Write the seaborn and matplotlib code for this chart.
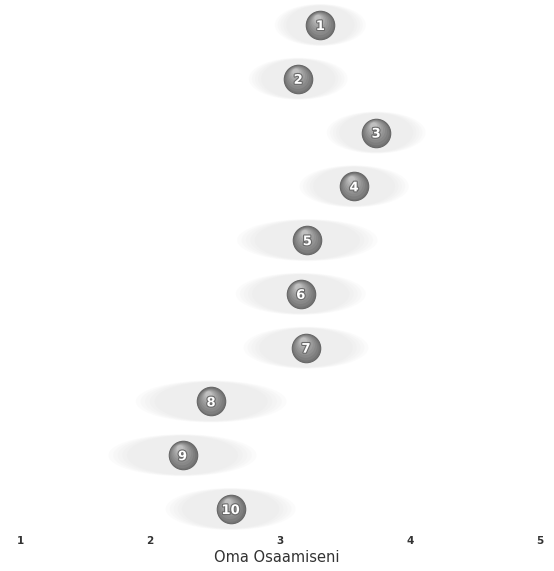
import numpy as np
import pandas as pd
import seaborn as sns
import matplotlib
matplotlib.use("Agg")
import matplotlib.pyplot as plt
from matplotlib.patches import Ellipse
from matplotlib.transforms import offset_copy
import matplotlib.patheffects as pe

# Self-assessment: mean score per item and the spread around it
items = [1, 2, 3, 4, 5, 6, 7, 8, 9, 10]
means = [3.31, 3.14, 3.74, 3.57, 3.21, 3.16, 3.20, 2.47, 2.25, 2.62]
spread = [0.35, 0.38, 0.38, 0.42, 0.54, 0.50, 0.48, 0.58, 0.57, 0.50]
tick_values = [1, 2, 3, 4, 5]
tick_labels = ["1", "2", "3", "4", "5"]
x_title = "Oma Osaamiseni"

df = pd.DataFrame({"item": items, "mean": means, "spread": spread})

sns.set_theme(style="white")
plt.rcParams["font.family"] = ["DejaVu Sans"]

fig = plt.figure(figsize=(5.54, 5.71), dpi=100)
ax = fig.add_axes([0.0, 41 / 571, 1.0, 530 / 571])

# pale, flat halo showing the spread of answers
for _, r in df.iterrows():
    for k in np.linspace(1.0, 0.75, 5):
        ax.add_patch(Ellipse((r["mean"], r["item"]), width=2 * r["spread"] * k,
                             height=0.78 * (0.7 + 0.3 * k), facecolor="#c4c4c4",
                             edgecolor="none", alpha=0.055, zorder=1))

# glossy numbered balls
base_s = 420
sns.scatterplot(data=df, x="mean", y="item", s=base_s, color="#747474",
                edgecolor="#666666", linewidth=0.8, ax=ax, zorder=3, legend=False)
shades = ["#7e7e7e", "#888888", "#929292", "#9c9c9c", "#a7a7a7", "#b3b3b3", "#c0c0c0"]
for i, c in enumerate(shades):
    frac = 0.9 - i * 0.11
    tr = offset_copy(ax.transData, fig=fig, x=-0.4 * i, y=1.1 * i, units="dots")
    ax.scatter(df["mean"], df["item"], s=base_s * frac ** 2, color=c,
               edgecolor="none", zorder=4 + i * 0.01, transform=tr)

for _, r in df.iterrows():
    ax.text(r["mean"], r["item"], str(int(r["item"])), ha="center", va="center_baseline",
            color="white", fontsize=9.5, fontweight="bold", zorder=6,
            path_effects=[pe.withStroke(linewidth=1.6, foreground="#6a6a6a")])

ax.set_xlim(1 - 20 / 130, 5 + 14 / 130)
ax.set_ylim(1 + 505 / 53.78, 1 - 25 / 53.78)
ax.set_xticks(tick_values)
ax.set_xticklabels(tick_labels, fontsize=7.5, fontweight="bold", color="#333333")
ax.set_yticks([])
ax.tick_params(axis="x", length=0, pad=4)
ax.set_xlabel(x_title, fontsize=10.5, color="#333333", labelpad=3)
ax.set_ylabel("")
for s in ax.spines.values():
    s.set_visible(False)

fig.savefig("out.png", dpi=100)
